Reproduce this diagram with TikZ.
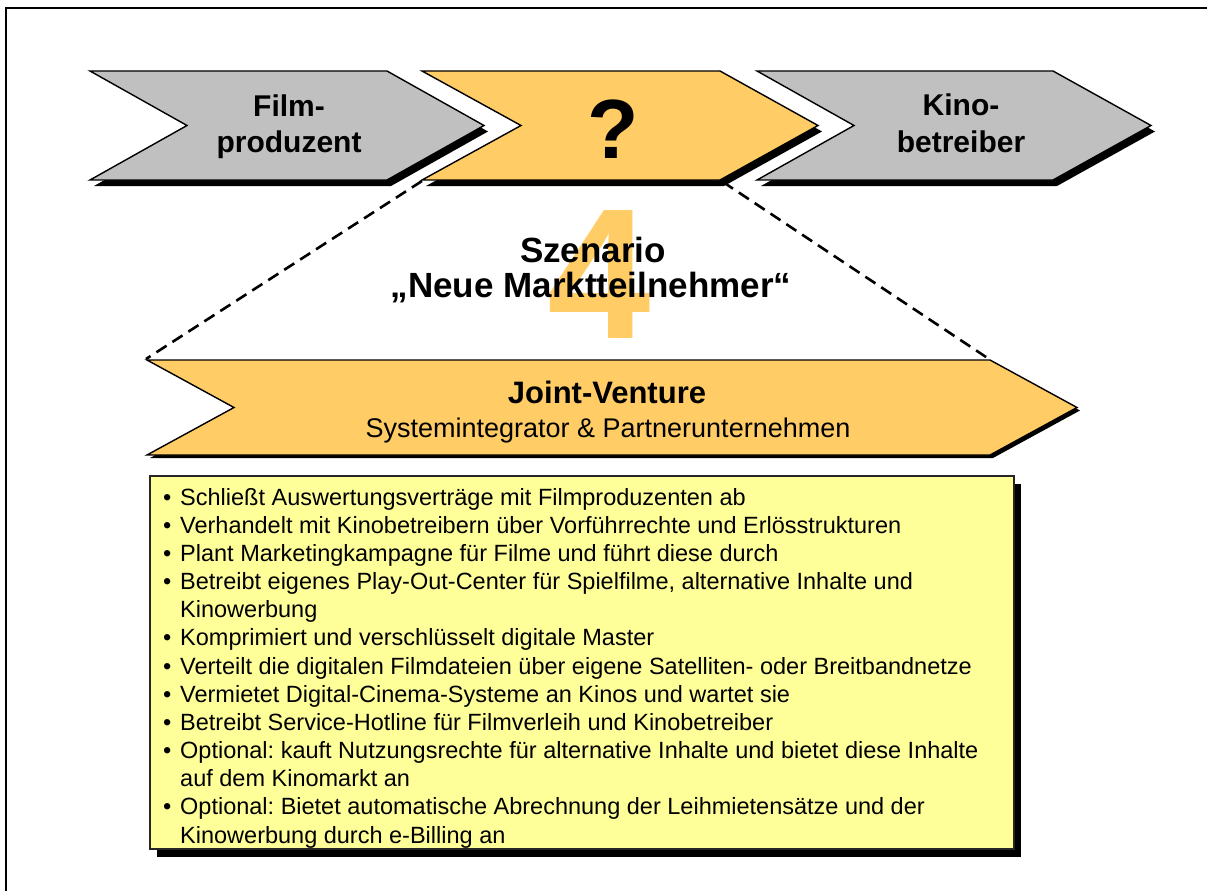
\documentclass[tikz,border=0pt]{standalone}
\usepackage{fontspec}
\setmainfont{Liberation Sans}
\usetikzlibrary{shadows}

\definecolor{chevgray}{HTML}{C0C0C0}
\definecolor{chevorange}{HTML}{FFCC66}
\definecolor{noteyellow}{HTML}{FFFF99}

\tikzset{
  chevron/.style={draw=black, line width=1.4pt, line join=miter},
  chevshadow/.style={fill=black},
  headtext/.style={inner sep=0pt, anchor=base, font=\fontsize{30}{36}\selectfont\bfseries},
  scentext/.style={inner sep=0pt, anchor=base, font=\fontsize{35}{40}\selectfont\bfseries},
  linktext/.style={inner sep=0pt, anchor=base west, font=\fontsize{23.5}{28}\selectfont\frenchspacing},
  zoomline/.style={draw=black, line width=2.6pt, dash pattern=on 12pt off 7pt},
  notebox/.style={draw=black!85, line width=1.5pt, fill=noteyellow,
    drop shadow={shadow xshift=7pt, shadow yshift=-8pt, fill=black, opacity=1}}
}

\begin{document}
\begin{tikzpicture}[x=1pt, y=-1pt]
\useasboundingbox (0,0) rectangle (1207,891);
\clip (0,0) rectangle (1207,891);

% outer frame
\draw[line width=2.2pt] (6,900) -- (6,8) -- (1215,8);

% value chain: Filmproduzent
\begin{scope}
  \clip (90,71) -- (1300,71) -- (1300,300) -- (70,300) -- (70,180) -- (90,180) -- (187,125.5) -- cycle;
  \fill[chevshadow, shift={(4,6)}]
    (90,71) -- (387,71) -- (484,125.5) -- (387,180) -- (90,180) -- (187,125.5) -- cycle;
\end{scope}
\path[chevron, fill=chevgray]
  (90,71) -- (387,71) -- (484,125.5) -- (387,180) -- (90,180) -- (187,125.5) -- cycle;

% value chain: open middle stage
\begin{scope}
  \clip (422,71) -- (1300,71) -- (1300,300) -- (400,300) -- (400,180) -- (422,180) -- (521,125.5) -- cycle;
  \fill[chevshadow, shift={(4,6)}]
    (422,71) -- (720,71) -- (818,125.5) -- (720,180) -- (422,180) -- (521,125.5) -- cycle;
\end{scope}
\path[chevron, fill=chevorange]
  (422,71) -- (720,71) -- (818,125.5) -- (720,180) -- (422,180) -- (521,125.5) -- cycle;

% value chain: Kinobetreiber
\begin{scope}
  \clip (757,71) -- (1300,71) -- (1300,300) -- (735,300) -- (735,180) -- (757,180) -- (854,125.5) -- cycle;
  \fill[chevshadow, shift={(4,6)}]
    (757,71) -- (1053,71) -- (1151,125.5) -- (1053,180) -- (757,180) -- (854,125.5) -- cycle;
\end{scope}
\path[chevron, fill=chevgray]
  (757,71) -- (1053,71) -- (1151,125.5) -- (1053,180) -- (757,180) -- (854,125.5) -- cycle;

% corners joined by the zoom lines
\coordinate (mid-sw) at (422,181);
\coordinate (mid-se) at (723,182);
\coordinate (jv-nw) at (146,359);
\coordinate (jv-ne) at (989,359);

\draw[zoomline] (mid-sw) -- (jv-nw);
\draw[zoomline] (mid-se) -- (jv-ne);

% chain labels
\node[headtext] (prod1) at (289,116) {Film-};
\node[headtext] (prod2) at (289,152) {produzent};
\node[inner sep=0pt, anchor=base, font=\fontsize{84}{90}\selectfont\bfseries] (mid) at (613,158) {?};
\node[headtext] (kino1) at (961,115) {Kino-};
\node[headtext] (kino2) at (961,152) {betreiber};

% scenario number and title
\node[inner sep=0pt, anchor=base, text=chevorange, font=\fontsize{186}{190}\selectfont\bfseries] (num) at (599,338) {4};
\node[scentext] (scen1) at (593,262) {Szenario};
\node[scentext] (scen2) at (591,297) {„Neue Marktteilnehmer“};

% joint venture stage
\begin{scope}
  \clip (147,360) -- (1300,360) -- (1300,600) -- (130,600) -- (130,455) -- (147,455) -- (234,407.5) -- cycle;
  \fill[chevshadow, shift={(3,3)}]
    (147,360) -- (990,360) -- (1077,407.5) -- (990,455) -- (147,455) -- (234,407.5) -- cycle;
\end{scope}
\path[chevron, fill=chevorange]
  (147,360) -- (990,360) -- (1077,407.5) -- (990,455) -- (147,455) -- (234,407.5) -- cycle;
\node[inner sep=0pt, anchor=base, font=\fontsize{31}{36}\selectfont\bfseries] (jv1) at (607,403) {Joint-Venture};
\node[inner sep=0pt, anchor=base, font=\fontsize{27}{32}\selectfont] (jv2) at (608,437) {Systemintegrator \& Partnerunternehmen};

% task list
\node[notebox, minimum width=864, minimum height=373, inner sep=0pt] (box) at (582,662.5) {};

\foreach \b/\t [count=\i] in {
  1/{Schließt Auswertungsverträge mit Filmproduzenten ab},
  1/{Verhandelt mit Kinobetreibern über Vorführrechte und Erlösstrukturen},
  1/{Plant Marketingkampagne für Filme und führt diese durch},
  1/{Betreibt eigenes Play-Out-Center für Spielfilme, alternative Inhalte und},
  0/{Kinowerbung},
  1/{Komprimiert und verschlüsselt digitale Master},
  1/{Verteilt die digitalen Filmdateien über eigene Satelliten- oder Breitbandnetze},
  1/{Vermietet Digital-Cinema-Systeme an Kinos und wartet sie},
  1/{Betreibt Service-Hotline für Filmverleih und Kinobetreiber},
  1/{Optional: kauft Nutzungsrechte für alternative Inhalte und bietet diese Inhalte},
  0/{auf dem Kinomarkt an},
  1/{Optional: Bietet automatische Abrechnung der Leihmietensätze und der},
  0/{Kinowerbung durch e-Billing an}} {
  \pgfmathsetmacro{\yy}{505+(\i-1)*28.17}
  \node[linktext] (line\i) at (180,\yy) {\t};
  \ifnum\b=1
    \node[linktext] (dot\i) at (163,\yy) {•};
  \fi
}
\end{tikzpicture}
\end{document}
